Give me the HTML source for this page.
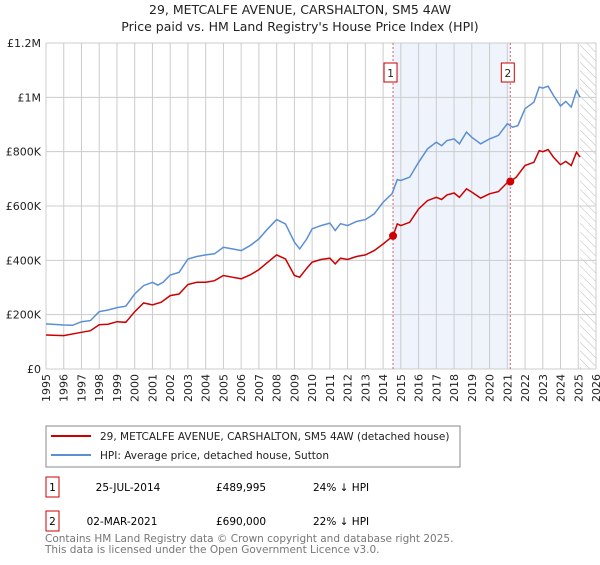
<!DOCTYPE html>
<html><head><meta charset="utf-8"><style>
body{margin:0;background:#fff;font-family:"Liberation Sans","DejaVu Sans",sans-serif;}
svg text{font-family:"DejaVu Sans","Liberation Sans",sans-serif;}
</style></head><body>
<svg width="600" height="560" viewBox="0 0 600 560" xmlns="http://www.w3.org/2000/svg">
<defs><pattern id="hatch" width="6" height="6" patternUnits="userSpaceOnUse" patternTransform="rotate(-45)"><line x1="0" y1="0" x2="0" y2="6" stroke="#bbb" stroke-width="1"/></pattern></defs>
<text x="300" y="14" text-anchor="middle" font-size="12.5" fill="#222">29, METCALFE AVENUE, CARSHALTON, SM5 4AW</text>
<text x="300" y="31" text-anchor="middle" font-size="12.5" fill="#222">Price paid vs. HM Land Registry's House Price Index (HPI)</text>
<g id="plot"></g>
<rect x="46" y="426" width="414" height="41" fill="#fff" stroke="#888"/>
<line x1="51" y1="436" x2="91" y2="436" stroke="#cc0000" stroke-width="2"/>
<text x="100" y="440" font-size="10.5" fill="#222">29, METCALFE AVENUE, CARSHALTON, SM5 4AW (detached house)</text>
<line x1="51" y1="455" x2="91" y2="455" stroke="#5b8fd4" stroke-width="2"/>
<text x="100" y="459" font-size="10.5" fill="#222">HPI: Average price, detached house, Sutton</text>
<g>
<rect x="46" y="477" width="13" height="20" fill="#fff" stroke="#cc0000"/><text x="52.5" y="491" text-anchor="middle" font-size="10.5">1</text>
<text x="128" y="491" text-anchor="middle" font-size="10.5">25-JUL-2014</text>
<text x="216" y="491" font-size="10.5">£489,995</text>
<text x="313" y="491" font-size="10.5">24% ↓ HPI</text></g>
<g>
<rect x="46" y="511" width="13" height="20" fill="#fff" stroke="#cc0000"/><text x="52.5" y="525" text-anchor="middle" font-size="10.5">2</text>
<text x="122" y="525" text-anchor="middle" font-size="10.5">02-MAR-2021</text>
<text x="216" y="525" font-size="10.5">£690,000</text>
<text x="313" y="525" font-size="10.5">22% ↓ HPI</text></g>
<text x="45" y="542" font-size="10.5" fill="#777">Contains HM Land Registry data © Crown copyright and database right 2025.</text>
<text x="45" y="553" font-size="10.5" fill="#777">This data is licensed under the Open Government Licence v3.0.</text>
</svg>
<script>
const hpiYears=[1995,1996,1996.5,1997,1997.5,1998,1998.5,1999,1999.5,2000,2000.5,2001,2001.3,2001.6,2002,2002.5,2003,2003.5,2004,2004.5,2005,2005.5,2006,2006.5,2007,2007.5,2008,2008.5,2009,2009.3,2009.7,2010,2010.5,2011,2011.3,2011.6,2012,2012.5,2013,2013.5,2014,2014.5,2014.8,2015,2015.5,2016,2016.5,2017,2017.3,2017.6,2018,2018.3,2018.7,2019,2019.5,2020,2020.5,2021,2021.3,2021.6,2022,2022.5,2022.8,2023,2023.3,2023.6,2024,2024.3,2024.6,2024.9,2025.1];
const hpiValues=[166,162,161,174,178,211,217,226,231,276,307,319,309,319,346,356,405,414,420,424,448,442,436,454,479,516,550,534,467,442,479,516,528,537,510,535,528,543,550,571,614,645,697,694,706,761,810,835,822,841,847,829,872,853,829,847,860,903,890,896,958,982,1038,1034,1041,1007,968,985,964,1025,1001];
const ppYears=[1995,1996,1997,1997.5,1998,1998.5,1999,1999.5,2000,2000.5,2001,2001.5,2002,2002.5,2003,2003.5,2004,2004.5,2005,2005.5,2006,2006.5,2007,2007.5,2008,2008.5,2009,2009.3,2009.7,2010,2010.5,2011,2011.3,2011.6,2012,2012.5,2013,2013.5,2014,2014.56,2014.8,2015,2015.5,2016,2016.5,2017,2017.3,2017.6,2018,2018.3,2018.7,2019,2019.5,2020,2020.5,2021,2021.17,2021.5,2022,2022.5,2022.8,2023,2023.3,2023.6,2024,2024.3,2024.6,2024.9,2025.1];
const ppValues=[125,123,135,141,163,165,174,172,211,243,236,246,270,276,311,319,319,325,344,338,332,346,366,393,420,405,344,338,371,393,403,408,387,408,403,414,420,436,460,490,534,528,540,589,620,632,624,641,648,632,663,651,629,645,653,686,690,706,749,761,804,800,808,780,752,764,749,798,780];
const sales=[{n:"1",year:2014.56,value:489995},{n:"2",year:2021.17,value:690000}];
const yTicks=[0,200,400,600,800,1000,1200];
const yTickLabels=["£0","£200K","£400K","£600K","£800K","£1M","£1.2M"];
const xTicks=[];for(let y=1995;y<=2026;y++)xTicks.push(y);
const X0=46,X1=596,Y0=369,Y1=43;
const xs=y=>X0+(y-1995)/(2026-1995)*(X1-X0);
const ys=v=>Y0-v/1200*(Y0-Y1);
const NS="http://www.w3.org/2000/svg";
const g=document.getElementById('plot');
function mk(t,a,p){const e=document.createElementNS(NS,t);for(const k in a)e.setAttribute(k,a[k]);(p||g).appendChild(e);return e;}
let r=mk('rect',{x:xs(sales[0].year),y:Y1,width:xs(sales[1].year)-xs(sales[0].year),height:Y0-Y1,fill:'#eef3fc'});


let h=mk('rect',{x:xs(2025.1),y:Y1,width:X1-xs(2025.1),height:Y0-Y1,fill:'url(#hatch)'});


xTicks.forEach(y=>{const l=mk('line',{x1:xs(y),x2:xs(y),y1:Y1,y2:Y0,stroke:'#ccc','stroke-width':1});


const t=mk('text',{x:0,y:0,'font-size':11,fill:'#222','text-anchor':'end',transform:`translate(${xs(y)+4},${Y0+5}) rotate(-90)`});t.textContent=y;

});
yTicks.forEach((v,i)=>{const l=mk('line',{x1:X0,x2:X1,y1:ys(v),y2:ys(v),stroke:'#ccc','stroke-width':1});


const t=mk('text',{x:X0-5,y:ys(v)+4,'font-size':11,fill:'#222','text-anchor':'end'});t.textContent=yTickLabels[i];

});
sales.forEach(s=>{const l=mk('line',{x1:xs(s.year),x2:xs(s.year),y1:Y1,y2:Y0,stroke:'#e06060','stroke-dasharray':'2,2','stroke-width':1});


const b=mk('rect',{x:xs(s.year)-9,y:Y1+20,width:13,height:19,fill:'#fff',stroke:'#cc0000'});


const t=mk('text',{x:xs(s.year)-2.5,y:Y1+34,'font-size':10.5,'text-anchor':'middle',fill:'#222'});t.textContent=s.n;

});
const path=(xv,yv)=>xv.map((x,i)=>(i?'L':'M')+xs(x).toFixed(1)+','+ys(yv[i]).toFixed(1)).join('');
const hp=mk('path',{d:path(hpiYears,hpiValues),fill:'none',stroke:'#5b8fd4','stroke-width':1.5});


const pp=mk('path',{d:path(ppYears,ppValues),fill:'none',stroke:'#cc0000','stroke-width':1.5});


sales.forEach(s=>{const c=mk('circle',{cx:xs(s.year),cy:ys(s.value/1000),r:4,fill:'#cc0000'});

});
</script>
</body></html>
